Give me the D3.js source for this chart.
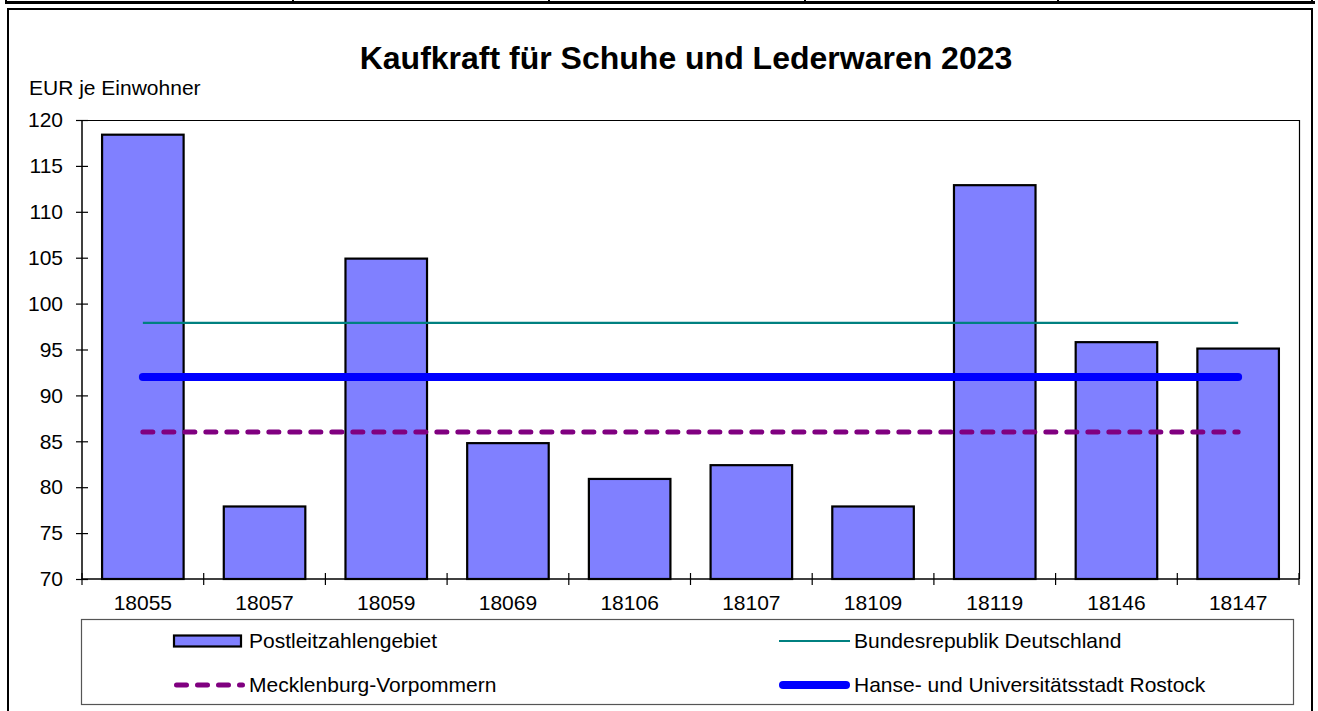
<!DOCTYPE html>
<html>
<head>
<meta charset="utf-8">
<script src="https://cdn.jsdelivr.net/npm/d3@7"></script>
<style>
  html, body { margin: 0; padding: 0; background: #fff; }
  svg { display: block; font-family: "Liberation Sans", Arial, sans-serif; }
</style>
</head>
<body>
<svg id="chart" width="1318" height="711"></svg>
<script>
// Kaufkraft je Einwohner
const plz = ["18055", "18057", "18059", "18069", "18106", "18107", "18109", "18119", "18146", "18147"];
const kaufkraft = [118.4, 77.9, 104.9, 84.8, 80.9, 82.4, 77.9, 112.9, 95.8, 95.1];

const refLines = [
  { name: "Bundesrepublik Deutschland", value: 97.9 },
  { name: "Mecklenburg-Vorpommern", value: 86.0 },
  { name: "Hanse- und Universitätsstadt Rostock", value: 92.0 },
];
const yTicks = [70, 75, 80, 85, 90, 95, 100, 105, 110, 115, 120];

const title = "Kaufkraft für Schuhe und Lederwaren 2023";
const unitLabel = "EUR je Einwohner";

const lineStyle = {
  "Bundesrepublik Deutschland": { color: "#008080", width: 2.2, dash: null, cap: "butt" },
  "Mecklenburg-Vorpommern": { color: "#800080", width: 5, dash: "10 11", cap: "round" },
  "Hanse- und Universitätsstadt Rostock": { color: "#0000ff", width: 8, dash: null, cap: "round" },
};

const svg = d3.select("#chart");
const plot = { left: 82, right: 1299, top: 120, bottom: 579 };
const fs = 21;

// page frame: bottom of a table row + chart border
const tableEdge = svg.append("g").attr("stroke", "#000");
tableEdge.append("line").attr("x1", 5).attr("x2", 1315).attr("y1", 2.5).attr("y2", 2.5).attr("stroke-width", 3);
[6, 293, 549, 805, 1058, 1312].forEach((xx) => {
  tableEdge.append("line").attr("x1", xx).attr("x2", xx).attr("y1", 0).attr("y2", 3).attr("stroke-width", 2);
});
svg.append("rect")
  .attr("x", 8).attr("y", 9).attr("width", 1304).attr("height", 720)
  .attr("fill", "none").attr("stroke", "#000").attr("stroke-width", 2);

const x = d3.scaleBand().domain(plz).range([plot.left, plot.right]).paddingInner(0.33).paddingOuter(0.165);
const xOuter = d3.scaleBand().domain(plz).range([plot.left, plot.right]);
const y = d3.scaleLinear().domain([70, 120]).range([plot.bottom, plot.top]);

svg.append("text")
  .attr("x", 686).attr("y", 69)
  .attr("text-anchor", "middle")
  .attr("font-size", 32).attr("font-weight", "bold")
  .text(title);

svg.append("text")
  .attr("x", 29).attr("y", 95)
  .attr("font-size", fs)
  .text(unitLabel);

// plot border (top and right)
svg.append("path")
  .attr("d", `M${plot.left},${plot.top + 0.5}H${plot.right + 0.5}V${plot.bottom}`)
  .attr("fill", "none").attr("stroke", "#000").attr("stroke-width", 1.2);

// bars
svg.append("g")
  .selectAll("rect")
  .data(plz)
  .join("rect")
  .attr("x", (d) => x(d))
  .attr("y", (d, i) => y(kaufkraft[i]))
  .attr("width", x.bandwidth())
  .attr("height", (d, i) => y(70) - y(kaufkraft[i]))
  .attr("fill", "#8080ff")
  .attr("stroke", "#000")
  .attr("stroke-width", 2.2);

// reference lines from first to last category centre
const x0 = xOuter(plz[0]) + xOuter.bandwidth() / 2;
const x1 = xOuter(plz[plz.length - 1]) + xOuter.bandwidth() / 2;
svg.append("g")
  .selectAll("line")
  .data(refLines)
  .join("line")
  .attr("x1", x0).attr("x2", x1)
  .attr("y1", (d) => y(d.value)).attr("y2", (d) => y(d.value))
  .attr("stroke", (d) => lineStyle[d.name].color)
  .attr("stroke-width", (d) => lineStyle[d.name].width)
  .attr("stroke-dasharray", (d) => lineStyle[d.name].dash)
  .attr("stroke-linecap", (d) => lineStyle[d.name].cap);

// y axis with crossing ticks
const yAxis = svg.append("g")
  .attr("transform", `translate(${plot.left},0)`)
  .call(d3.axisLeft(y).tickValues(yTicks).tickSize(6).tickPadding(13));
yAxis.selectAll(".tick line").attr("x2", 6).attr("x1", -6).attr("stroke-width", 1.2);
yAxis.select(".domain").attr("stroke-width", 1.5).attr("d", `M0,${plot.top}V${plot.bottom}`);
yAxis.selectAll("text").attr("font-size", fs).attr("font-family", "Liberation Sans, Arial, sans-serif").attr("fill", "#000");

// x axis: ticks at category boundaries
const xAxis = svg.append("g").attr("transform", `translate(0,${plot.bottom})`);
xAxis.append("line").attr("x1", plot.left).attr("x2", plot.right).attr("stroke", "#000").attr("stroke-width", 1.5);
const bounds = plz.map((d) => xOuter(d)).concat([plot.right]);
xAxis.selectAll(".bt")
  .data(bounds)
  .join("line")
  .attr("class", "bt")
  .attr("x1", (d) => d).attr("x2", (d) => d)
  .attr("y1", -6).attr("y2", 6)
  .attr("stroke", "#000").attr("stroke-width", 1.2);
xAxis.selectAll("text")
  .data(plz)
  .join("text")
  .attr("x", (d) => xOuter(d) + xOuter.bandwidth() / 2)
  .attr("y", 31)
  .attr("text-anchor", "middle")
  .attr("font-size", fs)
  .text((d) => d);

// legend
const legend = svg.append("g");
legend.append("rect")
  .attr("x", 81.5).attr("y", 619.5).attr("width", 1212).attr("height", 85)
  .attr("fill", "#fff").attr("stroke", "#555").attr("stroke-width", 1.2);

const legendItems = [
  { name: "Postleitzahlengebiet", type: "bar", sx: 174, row: 0 },
  { name: "Bundesrepublik Deutschland", type: "line", sx: 779, row: 0 },
  { name: "Mecklenburg-Vorpommern", type: "line", sx: 174, row: 1 },
  { name: "Hanse- und Universitätsstadt Rostock", type: "line", sx: 779, row: 1 },
];
const rowY = [641, 685];
legendItems.forEach((it) => {
  const cy = rowY[it.row];
  if (it.type === "bar") {
    legend.append("rect")
      .attr("x", it.sx).attr("y", cy - 5.5).attr("width", 67).attr("height", 11)
      .attr("fill", "#8080ff").attr("stroke", "#000").attr("stroke-width", 2.2);
  } else {
    const s = lineStyle[it.name];
    const inset = s.cap === "round" ? s.width / 2 : 0;
    legend.append("line")
      .attr("x1", it.sx + inset).attr("x2", it.sx + 71 - inset)
      .attr("y1", cy).attr("y2", cy)
      .attr("stroke", s.color).attr("stroke-width", s.width)
      .attr("stroke-dasharray", s.dash).attr("stroke-linecap", s.cap);
  }
  legend.append("text")
    .attr("x", it.sx + 75).attr("y", cy + 6.5)
    .attr("font-size", fs)
    .text(it.name);
});
</script>
</body>
</html>
